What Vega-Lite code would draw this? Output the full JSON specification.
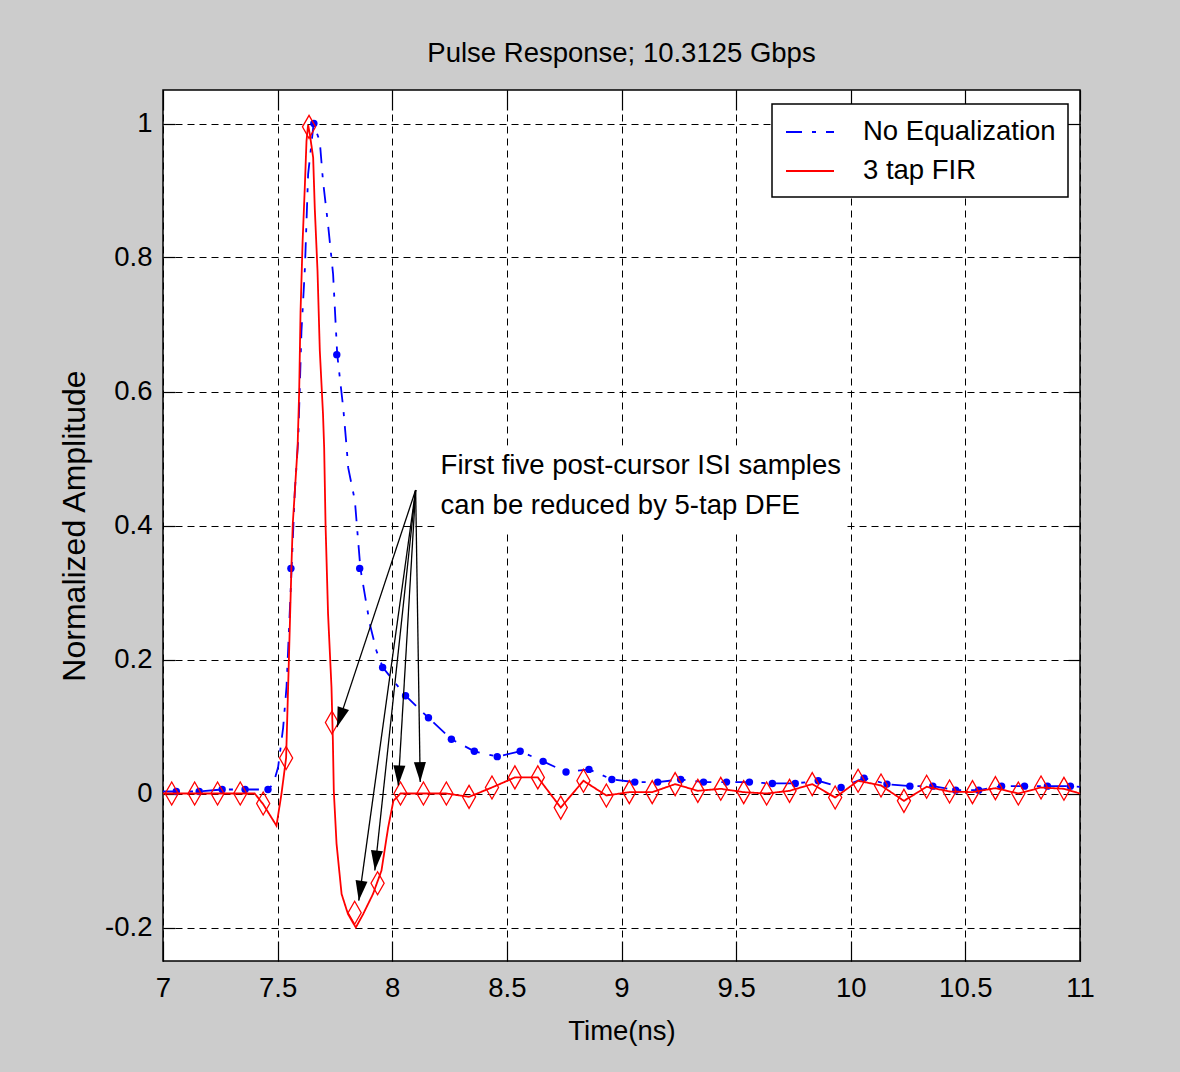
{
  "$schema": "https://vega.github.io/schema/vega-lite/v6.json",
  "width": 917,
  "height": 871,
  "autosize": {"type": "none"},
  "padding": {"left": 163, "top": 90, "right": 100, "bottom": 111},
  "background": "#cccccc",
  "title": {"text": "Pulse Response; 10.3125 Gbps", "offset": 22},
  "config": {
    "font": "Liberation Sans",
    "view": {"fill": "white", "stroke": "black", "strokeWidth": 1.5},
    "title": {"font": "Liberation Sans", "fontSize": 27.5, "fontWeight": "normal", "color": "black", "anchor": "middle"},
    "axis": {
      "domain": false,
      "gridColor": "black", "gridDash": [7, 5], "gridWidth": 1, "gridOpacity": 1,
      "tickColor": "black", "tickWidth": 1.2,
      "labelFont": "Liberation Sans", "labelFontSize": 27.5, "labelColor": "black", "labelFlush": false,
      "titleFont": "Liberation Sans", "titleFontSize": 27.5, "titleFontWeight": "normal", "titleColor": "black"
    },
    "legend": {
      "orient": "none", "legendX": 609, "legendY": 14,
      "fillColor": "white", "strokeColor": "black", "strokeWidth": 1.5,
      "padding": 12, "rowPadding": 9,
      "symbolType": "M-1.6,0L1.6,0", "symbolSize": 900, "symbolOffset": 10, "symbolStrokeWidth": 1.8,
      "labelFont": "Liberation Sans", "labelFontSize": 27.5, "labelColor": "black", "labelOffset": 37, "labelLimit": 400
    }
  },
  "datasets": {
    "blue_curve": [
      {"t": 7.0, "v": 0.003, "series": "No Equalization"},
      {"t": 7.058, "v": 0.003, "series": "No Equalization"},
      {"t": 7.158, "v": 0.003, "series": "No Equalization"},
      {"t": 7.258, "v": 0.006, "series": "No Equalization"},
      {"t": 7.358, "v": 0.006, "series": "No Equalization"},
      {"t": 7.458, "v": 0.006, "series": "No Equalization"},
      {"t": 7.481, "v": 0.014, "series": "No Equalization"},
      {"t": 7.502, "v": 0.039, "series": "No Equalization"},
      {"t": 7.524, "v": 0.098, "series": "No Equalization"},
      {"t": 7.539, "v": 0.16, "series": "No Equalization"},
      {"t": 7.549, "v": 0.24, "series": "No Equalization"},
      {"t": 7.561, "v": 0.336, "series": "No Equalization"},
      {"t": 7.575, "v": 0.451, "series": "No Equalization"},
      {"t": 7.59, "v": 0.53, "series": "No Equalization"},
      {"t": 7.604, "v": 0.69, "series": "No Equalization"},
      {"t": 7.619, "v": 0.784, "series": "No Equalization"},
      {"t": 7.633, "v": 0.924, "series": "No Equalization"},
      {"t": 7.657, "v": 1.0, "series": "No Equalization"},
      {"t": 7.684, "v": 0.973, "series": "No Equalization"},
      {"t": 7.698, "v": 0.914, "series": "No Equalization"},
      {"t": 7.72, "v": 0.849, "series": "No Equalization"},
      {"t": 7.742, "v": 0.775, "series": "No Equalization"},
      {"t": 7.76, "v": 0.655, "series": "No Equalization"},
      {"t": 7.786, "v": 0.576, "series": "No Equalization"},
      {"t": 7.8, "v": 0.521, "series": "No Equalization"},
      {"t": 7.808, "v": 0.486, "series": "No Equalization"},
      {"t": 7.837, "v": 0.437, "series": "No Equalization"},
      {"t": 7.861, "v": 0.336, "series": "No Equalization"},
      {"t": 7.902, "v": 0.253, "series": "No Equalization"},
      {"t": 7.931, "v": 0.213, "series": "No Equalization"},
      {"t": 7.959, "v": 0.188, "series": "No Equalization"},
      {"t": 8.058, "v": 0.146, "series": "No Equalization"},
      {"t": 8.158, "v": 0.113, "series": "No Equalization"},
      {"t": 8.258, "v": 0.081, "series": "No Equalization"},
      {"t": 8.358, "v": 0.063, "series": "No Equalization"},
      {"t": 8.458, "v": 0.055, "series": "No Equalization"},
      {"t": 8.558, "v": 0.063, "series": "No Equalization"},
      {"t": 8.658, "v": 0.048, "series": "No Equalization"},
      {"t": 8.758, "v": 0.032, "series": "No Equalization"},
      {"t": 8.858, "v": 0.036, "series": "No Equalization"},
      {"t": 8.958, "v": 0.021, "series": "No Equalization"},
      {"t": 9.058, "v": 0.017, "series": "No Equalization"},
      {"t": 9.158, "v": 0.017, "series": "No Equalization"},
      {"t": 9.258, "v": 0.021, "series": "No Equalization"},
      {"t": 9.358, "v": 0.017, "series": "No Equalization"},
      {"t": 9.458, "v": 0.017, "series": "No Equalization"},
      {"t": 9.558, "v": 0.017, "series": "No Equalization"},
      {"t": 9.658, "v": 0.015, "series": "No Equalization"},
      {"t": 9.758, "v": 0.015, "series": "No Equalization"},
      {"t": 9.858, "v": 0.019, "series": "No Equalization"},
      {"t": 9.958, "v": 0.009, "series": "No Equalization"},
      {"t": 10.058, "v": 0.023, "series": "No Equalization"},
      {"t": 10.158, "v": 0.014, "series": "No Equalization"},
      {"t": 10.258, "v": 0.011, "series": "No Equalization"},
      {"t": 10.358, "v": 0.011, "series": "No Equalization"},
      {"t": 10.458, "v": 0.005, "series": "No Equalization"},
      {"t": 10.558, "v": 0.005, "series": "No Equalization"},
      {"t": 10.658, "v": 0.011, "series": "No Equalization"},
      {"t": 10.758, "v": 0.011, "series": "No Equalization"},
      {"t": 10.858, "v": 0.011, "series": "No Equalization"},
      {"t": 10.958, "v": 0.011, "series": "No Equalization"},
      {"t": 11.0, "v": 0.01, "series": "No Equalization"}
    ],
    "blue_samples": [
      {"t": 7.058, "v": 0.003}, {"t": 7.158, "v": 0.003}, {"t": 7.258, "v": 0.006}, {"t": 7.358, "v": 0.006},
      {"t": 7.458, "v": 0.006}, {"t": 7.558, "v": 0.336}, {"t": 7.658, "v": 1.0}, {"t": 7.758, "v": 0.655},
      {"t": 7.858, "v": 0.336}, {"t": 7.958, "v": 0.188}, {"t": 8.058, "v": 0.146}, {"t": 8.158, "v": 0.113},
      {"t": 8.258, "v": 0.081}, {"t": 8.358, "v": 0.063}, {"t": 8.458, "v": 0.055}, {"t": 8.558, "v": 0.063},
      {"t": 8.658, "v": 0.048}, {"t": 8.758, "v": 0.032}, {"t": 8.858, "v": 0.036}, {"t": 8.958, "v": 0.021},
      {"t": 9.058, "v": 0.017}, {"t": 9.158, "v": 0.017}, {"t": 9.258, "v": 0.021}, {"t": 9.358, "v": 0.017},
      {"t": 9.458, "v": 0.017}, {"t": 9.558, "v": 0.017}, {"t": 9.658, "v": 0.015}, {"t": 9.758, "v": 0.015},
      {"t": 9.858, "v": 0.019}, {"t": 9.958, "v": 0.009}, {"t": 10.058, "v": 0.023}, {"t": 10.158, "v": 0.014},
      {"t": 10.258, "v": 0.011}, {"t": 10.358, "v": 0.011}, {"t": 10.458, "v": 0.005}, {"t": 10.558, "v": 0.005},
      {"t": 10.658, "v": 0.011}, {"t": 10.758, "v": 0.011}, {"t": 10.858, "v": 0.011}, {"t": 10.958, "v": 0.011}
    ],
    "red_curve": [
      {"t": 7.0, "v": 0.0, "series": "3 tap FIR"},
      {"t": 7.4, "v": 0.0, "series": "3 tap FIR"},
      {"t": 7.437, "v": -0.016, "series": "3 tap FIR"},
      {"t": 7.495, "v": -0.048, "series": "3 tap FIR"},
      {"t": 7.517, "v": 0.0, "series": "3 tap FIR"},
      {"t": 7.537, "v": 0.053, "series": "3 tap FIR"},
      {"t": 7.549, "v": 0.198, "series": "3 tap FIR"},
      {"t": 7.561, "v": 0.347, "series": "3 tap FIR"},
      {"t": 7.566, "v": 0.402, "series": "3 tap FIR"},
      {"t": 7.587, "v": 0.516, "series": "3 tap FIR"},
      {"t": 7.594, "v": 0.6, "series": "3 tap FIR"},
      {"t": 7.6, "v": 0.72, "series": "3 tap FIR"},
      {"t": 7.609, "v": 0.824, "series": "3 tap FIR"},
      {"t": 7.619, "v": 0.909, "series": "3 tap FIR"},
      {"t": 7.626, "v": 0.974, "series": "3 tap FIR"},
      {"t": 7.633, "v": 0.998, "series": "3 tap FIR"},
      {"t": 7.641, "v": 0.983, "series": "3 tap FIR"},
      {"t": 7.655, "v": 0.949, "series": "3 tap FIR"},
      {"t": 7.662, "v": 0.874, "series": "3 tap FIR"},
      {"t": 7.674, "v": 0.78, "series": "3 tap FIR"},
      {"t": 7.684, "v": 0.661, "series": "3 tap FIR"},
      {"t": 7.698, "v": 0.566, "series": "3 tap FIR"},
      {"t": 7.703, "v": 0.516, "series": "3 tap FIR"},
      {"t": 7.709, "v": 0.402, "series": "3 tap FIR"},
      {"t": 7.72, "v": 0.268, "series": "3 tap FIR"},
      {"t": 7.735, "v": 0.158, "series": "3 tap FIR"},
      {"t": 7.741, "v": 0.079, "series": "3 tap FIR"},
      {"t": 7.745, "v": 0.004, "series": "3 tap FIR"},
      {"t": 7.757, "v": -0.075, "series": "3 tap FIR"},
      {"t": 7.779, "v": -0.15, "series": "3 tap FIR"},
      {"t": 7.807, "v": -0.18, "series": "3 tap FIR"},
      {"t": 7.841, "v": -0.2, "series": "3 tap FIR"},
      {"t": 7.873, "v": -0.18, "series": "3 tap FIR"},
      {"t": 7.916, "v": -0.15, "series": "3 tap FIR"},
      {"t": 7.953, "v": -0.115, "series": "3 tap FIR"},
      {"t": 7.982, "v": -0.051, "series": "3 tap FIR"},
      {"t": 8.005, "v": -0.011, "series": "3 tap FIR"},
      {"t": 8.036, "v": 0.0, "series": "3 tap FIR"},
      {"t": 8.136, "v": 0.0, "series": "3 tap FIR"},
      {"t": 8.236, "v": 0.0, "series": "3 tap FIR"},
      {"t": 8.335, "v": -0.005, "series": "3 tap FIR"},
      {"t": 8.435, "v": 0.009, "series": "3 tap FIR"},
      {"t": 8.535, "v": 0.024, "series": "3 tap FIR"},
      {"t": 8.635, "v": 0.024, "series": "3 tap FIR"},
      {"t": 8.735, "v": -0.021, "series": "3 tap FIR"},
      {"t": 8.834, "v": 0.019, "series": "3 tap FIR"},
      {"t": 8.934, "v": -0.003, "series": "3 tap FIR"},
      {"t": 9.034, "v": 0.002, "series": "3 tap FIR"},
      {"t": 9.134, "v": 0.002, "series": "3 tap FIR"},
      {"t": 9.234, "v": 0.014, "series": "3 tap FIR"},
      {"t": 9.333, "v": 0.004, "series": "3 tap FIR"},
      {"t": 9.433, "v": 0.007, "series": "3 tap FIR"},
      {"t": 9.533, "v": 0.002, "series": "3 tap FIR"},
      {"t": 9.633, "v": 0.0, "series": "3 tap FIR"},
      {"t": 9.733, "v": 0.004, "series": "3 tap FIR"},
      {"t": 9.832, "v": 0.014, "series": "3 tap FIR"},
      {"t": 9.932, "v": -0.006, "series": "3 tap FIR"},
      {"t": 10.032, "v": 0.019, "series": "3 tap FIR"},
      {"t": 10.132, "v": 0.012, "series": "3 tap FIR"},
      {"t": 10.232, "v": -0.011, "series": "3 tap FIR"},
      {"t": 10.331, "v": 0.01, "series": "3 tap FIR"},
      {"t": 10.431, "v": 0.003, "series": "3 tap FIR"},
      {"t": 10.531, "v": 0.002, "series": "3 tap FIR"},
      {"t": 10.631, "v": 0.008, "series": "3 tap FIR"},
      {"t": 10.731, "v": 0.0, "series": "3 tap FIR"},
      {"t": 10.83, "v": 0.009, "series": "3 tap FIR"},
      {"t": 10.93, "v": 0.007, "series": "3 tap FIR"},
      {"t": 11.0, "v": 0.0, "series": "3 tap FIR"}
    ],
    "red_samples": [
      {"t": 7.038, "v": 0.0}, {"t": 7.138, "v": 0.0}, {"t": 7.238, "v": 0.0}, {"t": 7.337, "v": 0.0},
      {"t": 7.437, "v": -0.015}, {"t": 7.537, "v": 0.053}, {"t": 7.637, "v": 0.995}, {"t": 7.737, "v": 0.106},
      {"t": 7.836, "v": -0.178}, {"t": 7.936, "v": -0.134}, {"t": 8.036, "v": 0.0}, {"t": 8.136, "v": 0.0},
      {"t": 8.236, "v": 0.0}, {"t": 8.335, "v": -0.005}, {"t": 8.435, "v": 0.009}, {"t": 8.535, "v": 0.024},
      {"t": 8.635, "v": 0.024}, {"t": 8.735, "v": -0.021}, {"t": 8.834, "v": 0.019}, {"t": 8.934, "v": -0.003},
      {"t": 9.034, "v": 0.002}, {"t": 9.134, "v": 0.002}, {"t": 9.234, "v": 0.014}, {"t": 9.333, "v": 0.004},
      {"t": 9.433, "v": 0.007}, {"t": 9.533, "v": 0.002}, {"t": 9.633, "v": 0.0}, {"t": 9.733, "v": 0.004},
      {"t": 9.832, "v": 0.014}, {"t": 9.932, "v": -0.006}, {"t": 10.032, "v": 0.019}, {"t": 10.132, "v": 0.012},
      {"t": 10.232, "v": -0.011}, {"t": 10.331, "v": 0.01}, {"t": 10.431, "v": 0.003}, {"t": 10.531, "v": 0.002},
      {"t": 10.631, "v": 0.008}, {"t": 10.731, "v": 0.0}, {"t": 10.83, "v": 0.009}, {"t": 10.93, "v": 0.007}
    ],
    "arrows": [
      {"n": 1, "t0": 8.102, "v0": 0.453, "t1": 7.759, "v1": 0.099},
      {"n": 2, "t0": 8.102, "v0": 0.453, "t1": 7.854, "v1": -0.16},
      {"n": 3, "t0": 8.102, "v0": 0.453, "t1": 7.924, "v1": -0.115},
      {"n": 4, "t0": 8.102, "v0": 0.453, "t1": 8.026, "v1": 0.012},
      {"n": 5, "t0": 8.102, "v0": 0.453, "t1": 8.122, "v1": 0.017}
    ],
    "note_box": [
      {"t0": 8.185, "t1": 9.972, "v0": 0.393, "v1": 0.519}
    ],
    "notes": [
      {"t": 8.211, "v": 0.489, "text": "First five post-cursor ISI samples"},
      {"t": 8.211, "v": 0.429, "text": "can be reduced by 5-tap DFE"}
    ]
  },
  "resolve": {"axis": {"x": "independent", "y": "independent"}},
  "layer": [
    {
      "data": {"name": "blue_curve"},
      "mark": {"type": "line", "strokeWidth": 1.8},
      "encoding": {
        "x": {"field": "t", "type": "quantitative", "scale": {"domain": [7, 11], "nice": false, "zero": false},
          "axis": {"values": [7, 7.5, 8, 8.5, 9, 9.5, 10, 10.5, 11], "format": "~g", "title": "Time(ns)", "grid": true, "ticks": true, "tickSize": -20, "labelPadding": 33, "titlePadding": 16}},
        "y": {"field": "v", "type": "quantitative", "scale": {"domain": [-0.25, 1.05], "nice": false, "zero": false},
          "axis": {"values": [-0.2, 0, 0.2, 0.4, 0.6, 0.8, 1], "format": "~g", "labelExpr": "replace(datum.label, '\u2212', '-')", "title": "Normalized Amplitude", "titleFont": "Liberation Sans", "titleFontSize": 32, "grid": true, "ticks": true, "tickSize": -12, "labelPadding": 23, "titlePadding": 13}},
        "color": {"field": "series", "type": "nominal", "scale": {"domain": ["No Equalization", "3 tap FIR"], "range": ["#0000ff", "#ff0000"]}, "legend": {"title": null}},
        "strokeDash": {"field": "series", "type": "nominal", "scale": {"domain": ["No Equalization", "3 tap FIR"], "range": [[16, 10, 4, 10], [1, 0]]}, "legend": {"title": null}}
      }
    },
    {
      "data": {"name": "blue_samples"},
      "mark": {"type": "point", "shape": "circle", "filled": true, "color": "#0000ff", "size": 55, "opacity": 1},
      "encoding": {
        "x": {"field": "t", "type": "quantitative", "scale": {"domain": [7, 11], "nice": false, "zero": false},
          "axis": {"orient": "top", "values": [7, 7.5, 8, 8.5, 9, 9.5, 10, 10.5, 11], "labels": false, "grid": false, "title": null, "ticks": true, "tickSize": -20}},
        "y": {"field": "v", "type": "quantitative", "scale": {"domain": [-0.25, 1.05], "nice": false, "zero": false},
          "axis": {"orient": "right", "values": [-0.2, 0, 0.2, 0.4, 0.6, 0.8, 1], "labels": false, "grid": false, "title": null, "ticks": true, "tickSize": -12}}
      }
    },
    {
      "data": {"name": "red_curve"},
      "mark": {"type": "line", "strokeWidth": 1.8},
      "encoding": {
        "x": {"field": "t", "type": "quantitative", "scale": {"domain": [7, 11], "nice": false, "zero": false}, "axis": null},
        "y": {"field": "v", "type": "quantitative", "scale": {"domain": [-0.25, 1.05], "nice": false, "zero": false}, "axis": null},
        "color": {"field": "series", "type": "nominal", "scale": {"domain": ["No Equalization", "3 tap FIR"], "range": ["#0000ff", "#ff0000"]}, "legend": {"title": null}},
        "strokeDash": {"field": "series", "type": "nominal", "scale": {"domain": ["No Equalization", "3 tap FIR"], "range": [[16, 10, 4, 10], [1, 0]]}, "legend": {"title": null}}
      }
    },
    {
      "data": {"name": "red_samples"},
      "mark": {"type": "point", "shape": "M0,-1L0.57,0L0,1L-0.57,0Z", "filled": false, "color": "#ff0000", "strokeWidth": 1.3, "size": 529, "opacity": 1},
      "encoding": {
        "x": {"field": "t", "type": "quantitative", "scale": {"domain": [7, 11], "nice": false, "zero": false}, "axis": null},
        "y": {"field": "v", "type": "quantitative", "scale": {"domain": [-0.25, 1.05], "nice": false, "zero": false}, "axis": null}
      }
    },
    {
      "data": {"name": "note_box"},
      "mark": {"type": "rect", "color": "white", "opacity": 1},
      "encoding": {
        "x": {"field": "t0", "type": "quantitative", "scale": {"domain": [7, 11], "nice": false, "zero": false}, "axis": null},
        "x2": {"field": "t1"},
        "y": {"field": "v0", "type": "quantitative", "scale": {"domain": [-0.25, 1.05], "nice": false, "zero": false}, "axis": null},
        "y2": {"field": "v1"}
      }
    },
    {
      "data": {"name": "arrows"},
      "mark": {"type": "rule", "color": "black", "strokeWidth": 1.3},
      "encoding": {
        "x": {"field": "t0", "type": "quantitative", "scale": {"domain": [7, 11], "nice": false, "zero": false}, "axis": null},
        "y": {"field": "v0", "type": "quantitative", "scale": {"domain": [-0.25, 1.05], "nice": false, "zero": false}, "axis": null},
        "x2": {"field": "t1"},
        "y2": {"field": "v1"}
      }
    },
    {
      "data": {"name": "arrows"},
      "mark": {"type": "point", "shape": "M-0.6,-2L0.6,-2L0,0Z", "filled": true, "color": "black", "size": 400, "opacity": 1},
      "encoding": {
        "x": {"field": "t1", "type": "quantitative", "scale": {"domain": [7, 11], "nice": false, "zero": false}, "axis": null},
        "y": {"field": "v1", "type": "quantitative", "scale": {"domain": [-0.25, 1.05], "nice": false, "zero": false}, "axis": null},
        "angle": {"field": "n", "type": "quantitative", "scale": {"type": "threshold", "domain": [1.5, 2.5, 3.5, 4.5], "range": [18.4, 7.9, 6.1, 3.4, -0.9]}, "legend": null}
      }
    },
    {
      "data": {"name": "notes"},
      "mark": {"type": "text", "align": "left", "baseline": "middle", "fontSize": 27.5, "font": "Liberation Sans", "color": "black"},
      "encoding": {
        "x": {"field": "t", "type": "quantitative", "scale": {"domain": [7, 11], "nice": false, "zero": false}, "axis": null},
        "y": {"field": "v", "type": "quantitative", "scale": {"domain": [-0.25, 1.05], "nice": false, "zero": false}, "axis": null},
        "text": {"field": "text"}
      }
    }
  ]
}
